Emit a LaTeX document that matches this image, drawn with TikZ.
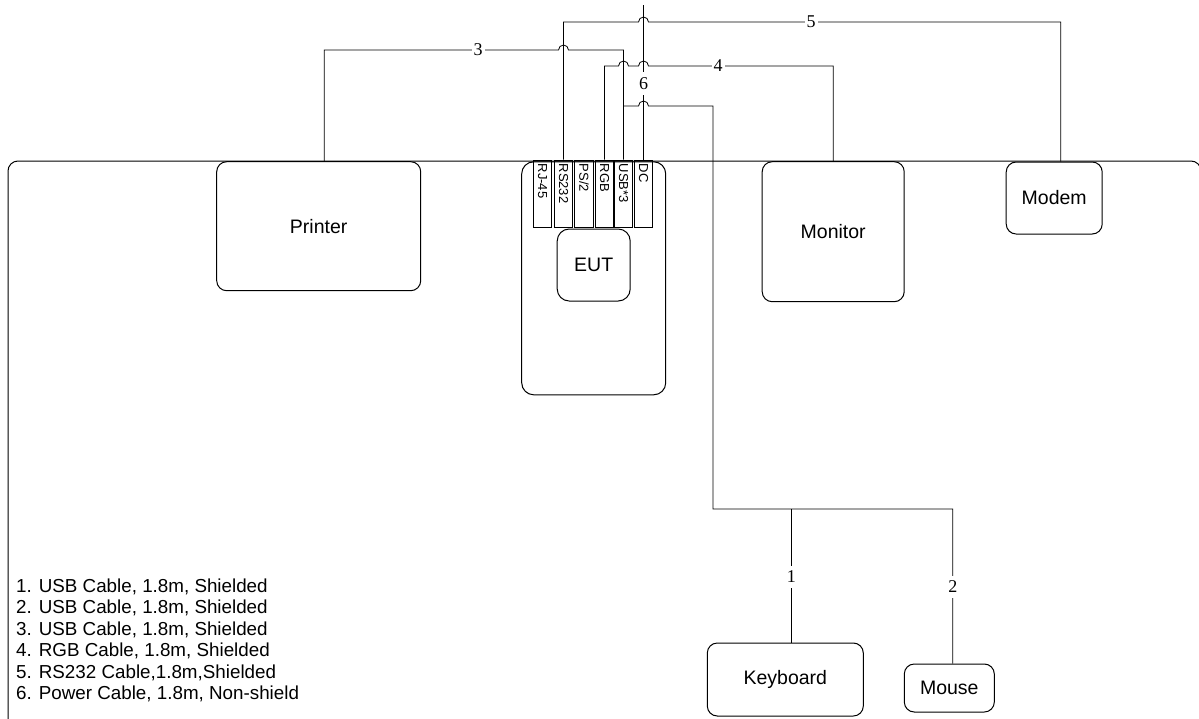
\documentclass[tikz,border=0pt]{standalone}
\usepackage{fontspec}
\setmainfont{Liberation Sans}
\newfontfamily\numfont{Liberation Serif}
\begin{document}
\begin{tikzpicture}[x=1pt,y=-1pt,
 box/.style={draw,line width=1pt,rounded corners=10pt,inner sep=0pt,font=\fontsize{19.5}{22}\selectfont},
 port/.style={draw,line width=0.9pt,minimum width=18.5pt,minimum height=67.7pt,inner sep=0pt},
 porttext/.style={rotate=-90,anchor=west,inner sep=0pt,font=\fontsize{13}{15}\selectfont},
 wire/.style={line width=0.8pt},
 num/.style={fill=white,inner xsep=2pt,inner ysep=1pt,font=\numfont\fontsize{18}{20}\selectfont},
 vnum/.style={num,inner ysep=5pt},
 legend/.style={anchor=base west,inner sep=0pt,font=\fontsize{18.8}{22}\selectfont}]
\useasboundingbox (0,0) rectangle (1199,718);
% table outline
\draw[line width=1pt,rounded corners=10pt] (8,161) rectangle (1201,745);
% devices
\node[box,minimum width=204pt,minimum height=129pt] (printer) at (318.7,226.2) {Printer};
\node[box,minimum width=142pt,minimum height=140pt] (monitor) at (833.2,231.7) {Monitor};
\node[box,minimum width=96pt,minimum height=72pt] (modem) at (1054.2,198) {Modem};
\node[box,minimum width=144pt,minimum height=233pt,rounded corners=12pt] (eutcase) at (593.7,278.3) {};
\node[box,minimum width=73pt,minimum height=72pt,rounded corners=12pt] (eut) at (593.7,265) {EUT};
\node[box,minimum width=156pt,minimum height=73pt] (keyboard) at (785.3,679.5) {Keyboard};
\node[box,minimum width=90pt,minimum height=48pt] (mouse) at (949.3,688) {Mouse};
% ports
\node[port] (rj) at (542.5,193.8) {};
\node[port] (rs) at (563.5,193.8) {};
\node[port] (ps) at (584,193.8) {};
\node[port] (rgb) at (604.5,193.8) {};
\node[port] (usb) at (623.5,193.8) {};
\node[port] (dc) at (643.5,193.8) {};
\node[porttext] (rjt) at ([yshift=-4pt]rj.north) {RJ-45};
\node[porttext] (rst) at ([yshift=-4pt]rs.north) {RS232};
\node[porttext] (pst) at ([yshift=-4pt]ps.north) {PS/2};
\node[porttext] (rgbt) at ([yshift=-4pt]rgb.north) {RGB};
\node[porttext] (usbt) at ([yshift=-4pt]usb.north) {USB*3};
\node[porttext] (dct) at ([yshift=-4pt]dc.north) {DC};
% wires
\coordinate (dcend) at (643.5,5);
\coordinate (kbj) at (623.5,106);
\coordinate (kbsplit) at (791.3,509);
\draw[wire] (dc.north) -- (dcend);
% 5: RS232 -> modem
\draw[wire] (rs.north) -- (563.5,22) -- (638.5,22) arc[start angle=180,end angle=0,radius=5pt] -| ([xshift=6.5pt]modem.north);
% 3: printer -> USB
\draw[wire] ([xshift=5.5pt]printer.north) |- (558.5,50) arc[start angle=180,end angle=0,radius=5pt] -| (usb.north);
% 4: RGB -> monitor
\draw[wire] (rgb.north) |- (618.5,66) arc[start angle=180,end angle=0,radius=5pt] -- (638.5,66) arc[start angle=180,end angle=0,radius=5pt] -| (monitor.north);
% 1,2: USB -> keyboard, mouse
\draw[wire] (kbj) -- (638.5,106) arc[start angle=180,end angle=0,radius=5pt] -| (713,509) -| ([xshift=3.5pt]mouse.north);
\draw[wire] ([xshift=6pt]keyboard.north) -- (kbsplit);
% cable numbers
\node[num] (n3) at (478,50) {3};
\node[num] (n5) at (811,22) {5};
\node[num] (n4) at (718,66) {4};
\node[vnum] (n6) at (643.5,83.5) {6};
\node[vnum] (n1) at (791.3,577) {1};
\node[vnum] (n2) at (952.8,587) {2};
% legend
\node[legend] (l1) at (16,592) {1. USB Cable, 1.8m, Shielded};
\node[legend] (l2) at (16,613.5) {2. USB Cable, 1.8m, Shielded};
\node[legend] (l3) at (16,635) {3. USB Cable, 1.8m, Shielded};
\node[legend] (l4) at (16,656.5) {4. RGB Cable, 1.8m, Shielded};
\node[legend] (l5) at (16,678) {5. RS232 Cable,1.8m,Shielded};
\node[legend] (l6) at (16,699.5) {6. Power Cable, 1.8m, Non-shield};
\end{tikzpicture}
\end{document}
